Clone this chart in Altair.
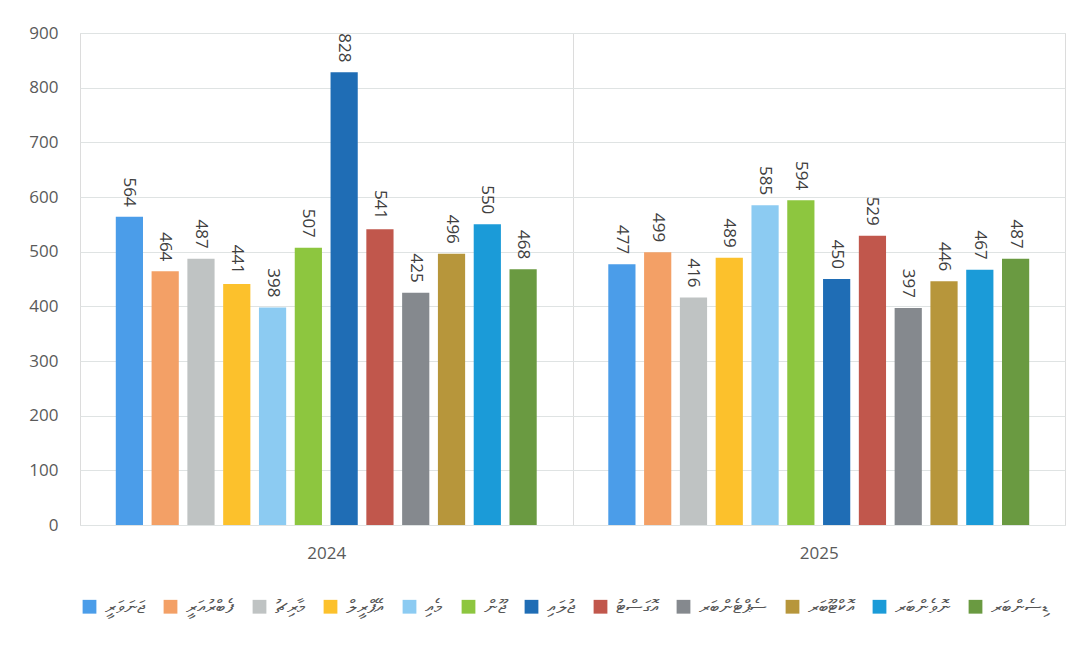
import altair as alt
import pandas as pd

months = ["ޖަނަވަރީ", "ފެބްރުއަރީ", "މާރިޗު", "އޭޕްރީލް", "މެއި", "ޖޫން",
          "ޖުލައި", "އޮގަސްޓު", "ސެޕްޓެންބަރ", "އޮކްޓޫބަރ", "ނޮވެންބަރ", "ޑިސެންބަރ"]
years = ["2024", "2025"]
values_2024 = [564, 464, 487, 441, 398, 507, 828, 541, 425, 496, 550, 468]
values_2025 = [477, 499, 416, 489, 585, 594, 450, 529, 397, 446, 467, 487]
colors = ["#4b9de9", "#f3a066", "#bfc3c3", "#fcc12c", "#8ccbf2", "#8dc63f",
          "#1f6db5", "#c1574c", "#85898e", "#b7963b", "#1b9bd8", "#6a9a41"]

rows = []
for y, vals in zip(years, [values_2024, values_2025]):
    for i, (m, v) in enumerate(zip(months, vals)):
        rows.append({"year": y, "month": m, "order": i, "value": v})
df = pd.DataFrame(rows)

FONT = "Open Sans"

x = alt.X("year:N", title=None, sort=years,
          scale=alt.Scale(paddingInner=0, paddingOuter=0),
          axis=alt.Axis(labelAngle=0, ticks=False, domain=False, labelFontSize=17,
                        labelColor="#5a5a5a", labelPadding=20, labelFont=FONT,
                        grid=True, tickBand="extent", gridColor="#dcdcdc"))
xo = alt.XOffset("month:N", sort=months,
                 scale=alt.Scale(paddingInner=0.24, paddingOuter=1.0))
y = alt.Y("value:Q", title=None,
          scale=alt.Scale(domain=[0, 900]),
          axis=alt.Axis(values=list(range(0, 1000, 100)), ticks=False, domain=False,
                        labelFontSize=17, labelColor="#5a5a5a", labelPadding=22,
                        labelFont=FONT, gridColor="#dfe3e3"))

color = alt.Color("month:N", sort=months,
                  scale=alt.Scale(domain=months, range=colors),
                  legend=alt.Legend(title=None, orient="bottom", direction="horizontal",
                                    columns=12, symbolType="square", symbolSize=190,
                                    symbolStrokeWidth=0, labelFontSize=19,
                                    labelColor="#555555", offset=36, labelOffset=6,
                                    columnPadding=16, labelFont="DejaVu Sans",
                                    padding=0))

bars = alt.Chart(df).mark_bar().encode(x=x, xOffset=xo, y=y, color=color)
labels = alt.Chart(df).mark_text(angle=90, align="right", baseline="middle", dx=-10,
                                 fontSize=17, color="#404040", font=FONT).encode(
    x=x, xOffset=xo, y=y, text=alt.Text("value:Q"))

chart = (bars + labels).properties(
    width=985, height=492,
    padding={"left": 72, "top": 25, "right": 10, "bottom": 110},
    autosize=alt.AutoSizeParams(type="none"),
).configure_view(stroke="#e2e6e6", fill="#f8fafa").configure(background="white")

chart.save("out.html", embed_options={"renderer": "svg", "actions": False})
